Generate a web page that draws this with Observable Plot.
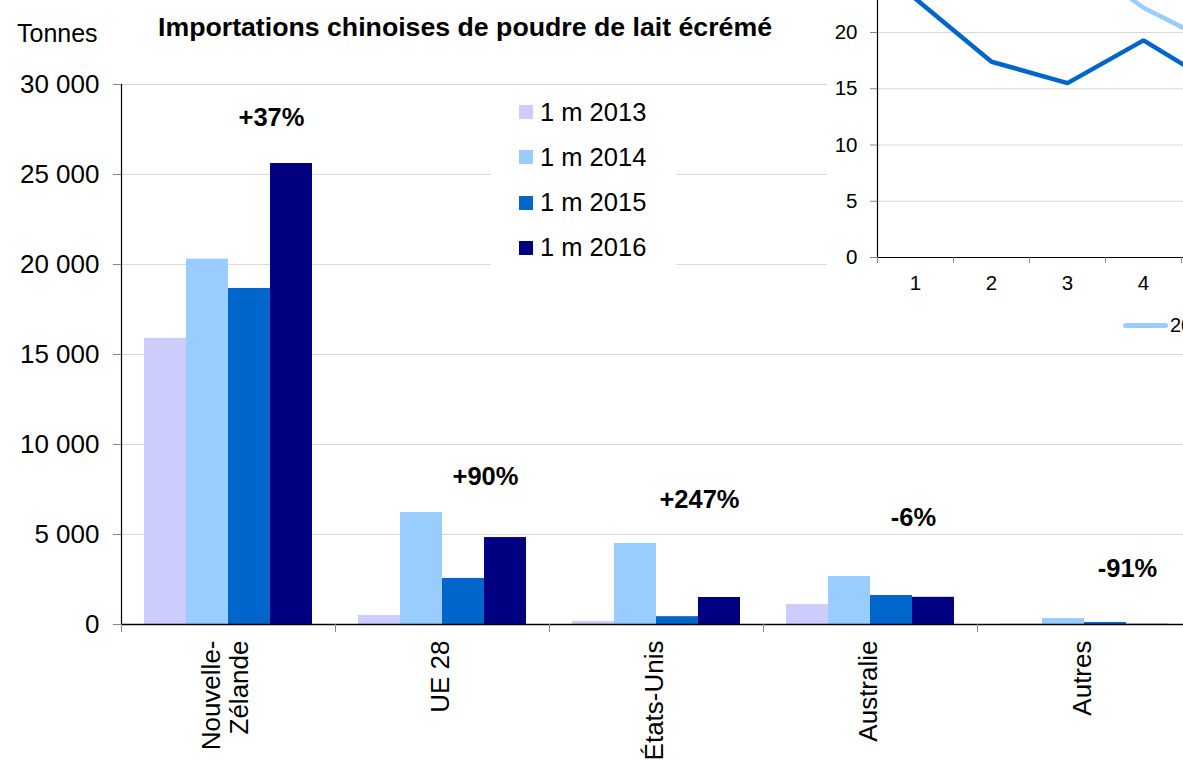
<!DOCTYPE html>
<html><head><meta charset="utf-8">
<script src="https://cdn.jsdelivr.net/npm/d3@7"></script>
<script src="https://cdn.jsdelivr.net/npm/@observablehq/plot@0.6"></script>
<style>
html,body{margin:0;padding:0;background:#fff;}
#wrap{position:relative;width:1183px;height:761px;overflow:hidden;font-family:"Liberation Sans",Arial,sans-serif;color:#000;}
#main{position:absolute;left:0;top:0;width:1191px;}
#title{position:absolute;left:158px;top:11px;font-weight:bold;font-size:26.7px;white-space:nowrap;line-height:32px;}
#unit{position:absolute;left:17px;top:17px;font-size:25px;line-height:32px;}
#legend{position:absolute;left:491px;top:88px;width:185px;height:177px;background:#fff;}
.row{position:absolute;left:28px;height:30px;display:flex;align-items:center;font-size:25.5px;white-space:nowrap;}
.sw{width:14px;height:14px;margin-right:7px;flex:none;}
#inset{position:absolute;left:827px;top:0;width:356px;height:345px;overflow:hidden;background:#fff;}
#insetPlot{position:absolute;left:0;top:-110px;width:506px;}
#insetLegend{position:absolute;left:296px;top:310px;height:30px;display:flex;align-items:center;font-size:20px;white-space:nowrap;}
#insetLegend span.ln{display:inline-block;width:45px;height:5px;border-radius:3px;margin-right:2px;}
svg{max-width:none !important;}
</style></head><body>
<div id="wrap">
  <div id="main"></div>
  <div id="unit">Tonnes</div>
  <div id="title">Importations chinoises de poudre de lait écrémé</div>
  <div id="legend"></div>
  <div id="inset"><div id="insetPlot"></div><div id="insetLegend"></div></div>
</div>
<script>
// ---- main chart data ----
const countries = ["Nouvelle-Zélande", "UE 28", "États-Unis", "Australie", "Autres"];
const catLabels = ["Nouvelle-\nZélande", "UE 28", "États-Unis", "Australie", "Autres"];
const years = ["1 m 2013", "1 m 2014", "1 m 2015", "1 m 2016"];
const v2013 = [15900, 500, 170, 1110, 20];
const v2014 = [20300, 6220, 4500, 2670, 330];
const v2015 = [18670, 2560, 435, 1610, 110];
const v2016 = [25610, 4830, 1500, 1510, 10];
const changes = ["+37%", "+90%", "+247%", "-6%", "-91%"];
const changeY = [28170, 8220, 6940, 5940, 3110];
const yTicks = [0, 5000, 10000, 15000, 20000, 25000, 30000];
const colors = ["#CCCCFF", "#99CCFF", "#0066CC", "#000080"];

// ---- inset (monthly line chart, partly visible) ----
const insetMonths = [1, 2, 3, 4, 5];
const inset2014 = [null, null, 27.1, 22.2, 18.8];
const inset2015 = [23.0, 17.4, 15.5, 19.3, 15.2];
const insetYTicks = [0, 5, 10, 15, 20, 25, 30];
const insetXTicks = [1, 2, 3, 4, 5, 6];
const insetSeries = ["2014", "2015"];
const insetColors = ["#99CCFF", "#0066CC"];

const series = [v2013, v2014, v2015, v2016];
const rows = [];
countries.forEach((c, i) => series.forEach((s, j) => rows.push({country: c, year: years[j], value: s[i]})));
const changeRows = countries.map((c, i) => ({country: c, text: changes[i], y: changeY[i]}));
const catRows = countries.map((c, i) => ({country: c, label: catLabels[i]}));
const singleCats = catRows.filter(d => !d.label.includes("\n"));
const multiCats = catRows.filter(d => d.label.includes("\n"));
const fmt = d => d3.format(",")(d).replace(/,/g, " ");

const W = 1191, ML = 121;
const band = (W - ML) / countries.length;
const catStyle = {fx: "country", frameAnchor: "bottom", text: "label", rotate: -90, textAnchor: "end", dy: 16, fontSize: 26, lineHeight: 1.06};

const main = Plot.plot({
  width: W, height: 761,
  marginLeft: ML, marginRight: 0, marginTop: 84, marginBottom: 137,
  style: {fontFamily: "'Liberation Sans', Arial, sans-serif", color: "#000", background: "transparent", maxWidth: "none"},
  fx: {domain: countries, padding: 0, axis: null, label: null},
  x: {domain: years, paddingInner: 0, paddingOuter: 0.5, axis: null, label: null},
  y: {domain: [0, 30000], axis: null, label: null},
  color: {domain: years, range: colors},
  marks: [
    Plot.gridY(yTicks.slice(1), {stroke: "#d9d9d9", strokeOpacity: 1}),
    Plot.barY(rows, {fx: "country", x: "year", y: "value", fill: "year"}),
    Plot.ruleY([0], {stroke: "#000", strokeWidth: 1.3}),
    Plot.ruleX([countries[0]], {fx: d => d, x: null, y1: 0, y2: 30000, dx: -band / 2, stroke: "#000", strokeWidth: 1.2}),
    Plot.ruleX(countries, {fx: d => d, x: null, y1: 0, y2: 0, insetBottom: -8, dx: -band / 2, stroke: "#868686"}),
    Plot.axisY(yTicks, {anchor: "left", tickSize: 8, tickPadding: 14, tickFormat: fmt, stroke: "#868686", fontSize: 26, label: null}),
    Plot.text(changeRows, {fx: "country", frameAnchor: "middle", y: "y", text: "text", fontWeight: "bold", fontSize: 25.5, dx: 43}),
    Plot.text(singleCats, {...catStyle, dx: 6}),
    Plot.text(multiCats, {...catStyle, dx: 19})
  ]
});
document.getElementById("main").appendChild(main);

// legend (HTML)
const leg = document.getElementById("legend");
years.forEach((y, i) => {
  const r = document.createElement("div");
  r.className = "row";
  r.style.top = (9 + i * 45.3) + "px";
  r.innerHTML = `<span class="sw" style="background:${colors[i]}"></span><span>${y}</span>`;
  leg.appendChild(r);
});

// inset plot
const lineRows = [];
insetMonths.forEach((m, i) => {
  lineRows.push({s: insetSeries[0], m, v: inset2014[i]});
  lineRows.push({s: insetSeries[1], m, v: inset2015[i]});
});
const inset = Plot.plot({
  width: 506, height: 460,
  marginLeft: 50, marginRight: 0, marginTop: 29.5, marginBottom: 93,
  style: {fontFamily: "'Liberation Sans', Arial, sans-serif", color: "#000", background: "transparent", maxWidth: "none"},
  x: {domain: [0.5, 6.5], axis: null, label: null},
  y: {domain: [0, 30], axis: null, label: null},
  color: {domain: insetSeries, range: insetColors},
  marks: [
    Plot.gridY(insetYTicks.slice(1), {stroke: "#d9d9d9", strokeOpacity: 1}),
    Plot.ruleY([0], {stroke: "#000", strokeWidth: 1.2}),
    Plot.ruleX([0.5], {stroke: "#000", strokeWidth: 1.2}),
    Plot.axisY(insetYTicks, {anchor: "left", tickSize: 7, tickPadding: 13, stroke: "#868686", fontSize: 20.5, label: null}),
    Plot.axisX(insetXTicks, {anchor: "bottom", tickSize: 0, tickPadding: 18, fontSize: 20.5, label: null}),
    Plot.axisX(insetXTicks.map(d => d - 0.5), {anchor: "bottom", tickSize: 6, tickFormat: () => "", stroke: "#868686", label: null}),
    Plot.line(lineRows, {x: "m", y: "v", z: "s", stroke: "s", strokeWidth: 4.5, strokeLinejoin: "miter"})
  ]
});
document.getElementById("insetPlot").appendChild(inset);
document.getElementById("insetLegend").innerHTML =
  `<span class="ln" style="background:${insetColors[0]}"></span><span>${insetSeries[0]}</span>`;
</script>
</body></html>
